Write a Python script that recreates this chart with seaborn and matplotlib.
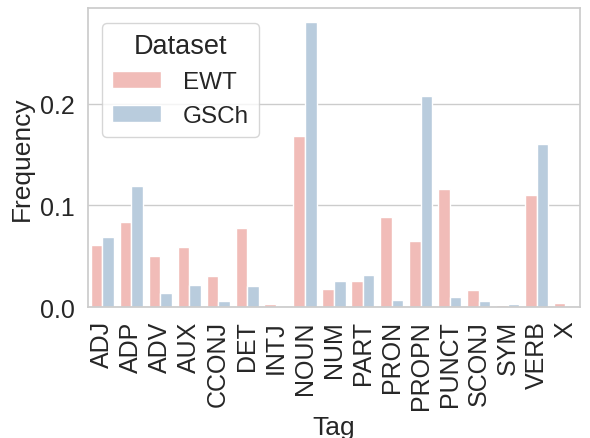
import matplotlib
matplotlib.use("Agg")
import matplotlib.pyplot as plt
import seaborn as sns
import pandas as pd

tags = ["ADJ", "ADP", "ADV", "AUX", "CCONJ", "DET", "INTJ", "NOUN", "NUM", "PART",
        "PRON", "PROPN", "PUNCT", "SCONJ", "SYM", "VERB", "X"]
ewt = [0.061, 0.084, 0.050, 0.059, 0.031, 0.078, 0.0027, 0.168, 0.018, 0.026,
       0.089, 0.065, 0.116, 0.017, 0.0023, 0.110, 0.004]
gsch = [0.069, 0.119, 0.014, 0.022, 0.0056, 0.021, 0.0002, 0.280, 0.026, 0.032,
        0.0072, 0.208, 0.010, 0.0062, 0.003, 0.160, 0.0002]
datasets = ["EWT", "GSCh"]

df = pd.DataFrame({
    "Tag": tags * 2,
    "Frequency": ewt + gsch,
    "Dataset": [datasets[0]] * len(tags) + [datasets[1]] * len(tags),
})

sns.set_theme(style="whitegrid", font_scale=1.6)
plt.rcParams["font.family"] = ["Liberation Sans", "DejaVu Sans"]

fig, ax = plt.subplots(figsize=(5.9, 4.39), dpi=100)
sns.barplot(data=df, x="Tag", y="Frequency", hue="Dataset", palette="Pastel1", ax=ax)
ax.tick_params(axis="x", rotation=90)
ax.tick_params(axis="both", labelsize=18)
ax.set_xlabel("Tag", fontsize=19)
ax.set_ylabel("Frequency", fontsize=19)
ax.set_yticks([0.0, 0.1, 0.2])
leg = ax.legend(title="Dataset", loc="upper left", fontsize=17.5, title_fontsize=19.5,
                handletextpad=0.9, borderaxespad=0.6)
fig.subplots_adjust(left=0.149, right=0.983, top=0.979, bottom=0.298)
fig.savefig("out.png", dpi=100)
